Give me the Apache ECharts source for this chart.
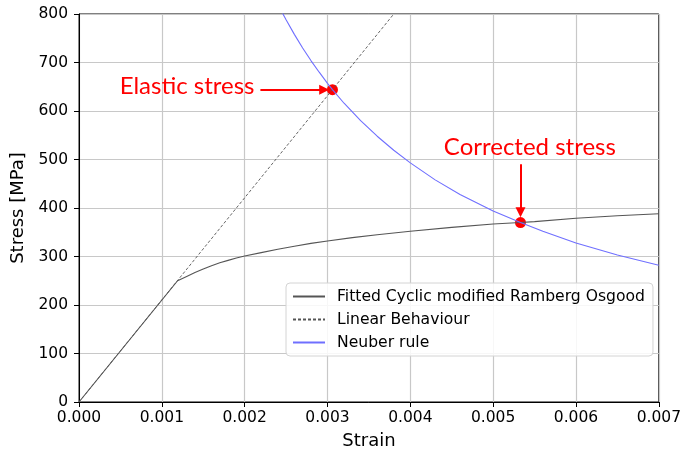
<!DOCTYPE html>
<html>
<head>
<meta charset="utf-8">
<script src="https://cdn.jsdelivr.net/npm/echarts@6/dist/echarts.min.js"></script>
<style>
  html, body { margin: 0; padding: 0; background: #fff; }
  #chart { width: 684px; height: 455px; }
</style>
</head>
<body>
<div id="chart"></div>
<script>
// Axis ticks
const strainTicks = [0, 0.001, 0.002, 0.003, 0.004, 0.005, 0.006, 0.007];
const stressTicks = [0, 100, 200, 300, 400, 500, 600, 700, 800];

// Fitted cyclic modified Ramberg-Osgood curve: [strain, stress MPa]
const rambergOsgood = [
  [0, 0], [0.00119, 250], [0.0013, 259], [0.0014, 267], [0.0015, 274],
  [0.0016, 281], [0.0017, 287], [0.0018, 292], [0.0019, 297], [0.002, 301],
  [0.0022, 308], [0.0024, 315], [0.0026, 321], [0.0028, 327], [0.003, 332],
  [0.0033, 339], [0.0036, 345], [0.004, 352], [0.0045, 360], [0.005, 367],
  [0.00533, 370], [0.0055, 372], [0.006, 379], [0.0065, 384], [0.007, 388]
];

// Linear elastic behaviour
const linearBehaviour = [[0, 0], [0.0038, 800]];

// Neuber hyperbola
const neuberRule = [
  [0.00245, 804], [0.0025, 788], [0.0026, 758], [0.0027, 730], [0.0028, 704],
  [0.0029, 680], [0.003, 657], [0.00306, 644], [0.0032, 616], [0.0034, 580],
  [0.0036, 548], [0.0038, 519], [0.004, 493], [0.0043, 458], [0.0046, 428],
  [0.005, 394], [0.00533, 370], [0.0056, 352], [0.006, 328], [0.0065, 303],
  [0.007, 282]
];

// Highlighted states
const elasticPoint = [0.00306, 644];
const correctedPoint = [0.00533, 370];

const labelNames = ['Elastic stress', 'Corrected stress'];

// Annotation layout (text anchors and arrow ends, in data units)
const annotationLayout = {
  elasticText: [0.001305, 650],
  correctedText: [0.005443, 525],
  elasticArrow: [[0.00219, 644], [0.00296, 644]],
  correctedArrow: [[0.00533, 490], [0.00533, 391]]
};

const chart = echarts.init(document.getElementById('chart'), null, { renderer: 'canvas' });

const tickFont = { fontFamily: 'DejaVu Sans', fontSize: 15.5, color: '#000' };
const red = '#ff0000';

chart.setOption({
  animation: false,
  backgroundColor: '#fff',
  grid: {
    left: 79, right: 21, top: 14, bottom: 52,
    show: true, borderColor: '#000', borderWidth: 1, backgroundColor: 'transparent'
  },
  xAxis: {
    type: 'value',
    min: strainTicks[0], max: strainTicks[strainTicks.length - 1], interval: 0.001,
    name: 'Strain', nameLocation: 'middle', nameGap: 30,
    nameTextStyle: { fontFamily: 'DejaVu Sans', fontSize: 18, color: '#000' },
    axisLine: { show: true, onZero: false, lineStyle: { color: '#000', width: 1 } },
    axisTick: { show: true, length: 5, lineStyle: { color: '#000', width: 1 } },
    axisLabel: { ...tickFont, margin: 8, formatter: v => v.toFixed(3) },
    splitLine: { show: true, lineStyle: { color: '#c8c8c8', width: 1.2 } }
  },
  yAxis: {
    type: 'value',
    min: stressTicks[0], max: stressTicks[stressTicks.length - 1], interval: 100,
    name: 'Stress [MPa]', nameLocation: 'middle', nameGap: 49,
    nameTextStyle: { fontFamily: 'DejaVu Sans', fontSize: 18, color: '#000' },
    axisLine: { show: true, onZero: false, lineStyle: { color: '#000', width: 1 } },
    axisTick: { show: true, length: 5, lineStyle: { color: '#000', width: 1 } },
    axisLabel: { ...tickFont, margin: 11 },
    splitLine: { show: true, lineStyle: { color: '#c8c8c8', width: 1.2 } }
  },
  legend: {
    data: ['Fitted Cyclic modified Ramberg Osgood', 'Linear Behaviour', 'Neuber rule'],
    orient: 'vertical',
    left: 286, top: 283,
    padding: [5, 8, 5, 6],
    itemWidth: 32, itemHeight: 14, itemGap: 6,
    itemStyle: { color: 'rgba(0,0,0,0)', borderWidth: 0 },
    backgroundColor: 'rgba(255,255,255,0.85)',
    borderColor: '#d4d4d4', borderWidth: 1, borderRadius: 4,
    textStyle: { fontFamily: 'DejaVu Sans', fontSize: 15.6, color: '#000', lineHeight: 17, padding: [0, 0, 0, 7] }
  },
  series: [
    {
      name: 'points',
      type: 'scatter',
      z: 1,
      symbol: 'circle',
      symbolSize: 11,
      itemStyle: { color: red, opacity: 1 },
      data: [elasticPoint, correctedPoint],
      silent: true
    },
    {
      name: 'Fitted Cyclic modified Ramberg Osgood',
      type: 'line',
      z: 3,
      data: rambergOsgood,
      symbol: 'none',
      smooth: false,
      lineStyle: { color: '#555555', width: 1.1 },
      itemStyle: { color: '#555555' }
    },
    {
      name: 'Linear Behaviour',
      type: 'line',
      z: 3,
      data: linearBehaviour,
      symbol: 'none',
      lineStyle: { color: '#555555', width: 0.9, type: [3, 2] },
      itemStyle: { color: '#555555' }
    },
    {
      name: 'Neuber rule',
      type: 'line',
      z: 3,
      data: neuberRule,
      symbol: 'none',
      smooth: false,
      lineStyle: { color: '#6f6fff', width: 1.1 },
      itemStyle: { color: '#6f6fff' }
    },
    {
      name: 'annotations',
      type: 'scatter',
      z: 4,
      silent: true,
      symbol: 'circle',
      symbolSize: 1,
      itemStyle: { color: 'rgba(0,0,0,0)', opacity: 1 },
      data: [
        { value: annotationLayout.elasticText, name: labelNames[0] },
        { value: annotationLayout.correctedText, name: labelNames[1] }
      ],
      label: {
        show: true,
        position: 'inside',
        formatter: p => p.name,
        fontFamily: 'Lato',
        fontSize: 24,
        color: red,
        opacity: 1
      },
      markLine: {
        silent: true,
        symbol: ['none', 'triangle'],
        symbolSize: 10,
        label: { show: false },
        lineStyle: { color: red, width: 2, type: 'solid', opacity: 1 },
        emphasis: { disabled: true },
        data: [
          [{ coord: annotationLayout.elasticArrow[0] }, { coord: annotationLayout.elasticArrow[1] }],
          [{ coord: annotationLayout.correctedArrow[0] }, { coord: annotationLayout.correctedArrow[1] }]
        ]
      }
    }
  ]
});
</script>
</body>
</html>
